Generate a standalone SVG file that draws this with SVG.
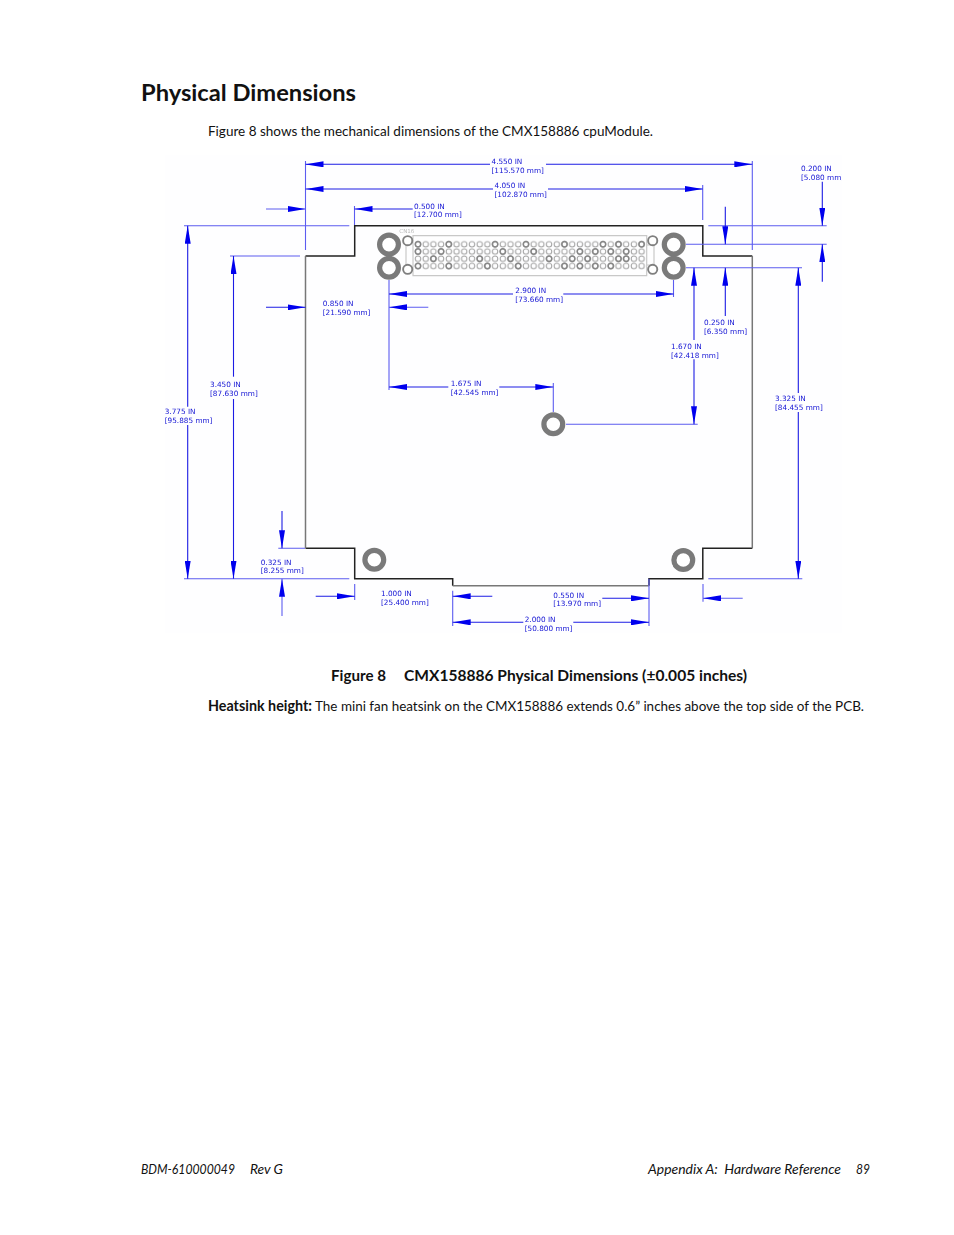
<svg xmlns="http://www.w3.org/2000/svg" xmlns:xlink="http://www.w3.org/1999/xlink" width="954" height="1235" viewBox="0 0 954 1235">
<style>
.page{font-family:"Lato","Noto Sans",sans-serif;fill:#111}
.b{font-weight:700}
.foot{font-style:italic;font-size:14px}
.dim text{font-family:"DejaVu Sans","Liberation Sans",sans-serif;font-size:7.3px;fill:#1414d4}
.l{fill:none;stroke:#1c1ce4;stroke-width:1.1}
.w{fill:none;stroke:#5c5cf0;stroke-width:1.1}
.a{marker-end:url(#arrow)}
.dark{fill:none;stroke:#222;stroke-width:1.5}
.gray{fill:none;stroke:#777;stroke-width:1.5}
.hole{fill:#fff;stroke:#7a7a7a;stroke-width:5.2}
.ring{fill:#fff;stroke:#7f7f7f;stroke-width:1.9}
.pin{fill:none;stroke:#a2a2a2;stroke-width:1}
.pinb{fill:none;stroke:#878787;stroke-width:1.5}
</style>
<defs>
<marker id="arrow" markerUnits="userSpaceOnUse" viewBox="0 0 18 6" refX="18" refY="3" markerWidth="18" markerHeight="6" orient="auto"><path d="M0 0L18 3L0 6Z" fill="#0000ee"/></marker>
<pattern id="pins" patternUnits="userSpaceOnUse" x="414.15" y="240.7" width="7.71" height="7.23"><circle cx="3.855" cy="3.6" r="2.7" class="pin"/></pattern>
<circle id="pb" r="2.7" class="pinb"/>
<filter id="soft" x="0" y="0" width="1" height="1"><feGaussianBlur stdDeviation="0.3"/></filter>
<clipPath id="figclip"><rect x="165" y="155" width="677" height="478"/></clipPath>
</defs>
<rect width="954" height="1235" fill="#fff"/>
<g id="page-text" class="page">
<text class="b" x="141" y="101" font-size="23.5" textLength="215" lengthAdjust="spacingAndGlyphs">Physical Dimensions</text>
<text x="208" y="136" font-size="14.2" textLength="445" lengthAdjust="spacingAndGlyphs">Figure 8 shows the mechanical dimensions of the CMX158886 cpuModule.</text>
<text class="b" x="331" y="681" font-size="15" textLength="55" lengthAdjust="spacingAndGlyphs">Figure 8</text>
<text class="b" x="404" y="681" font-size="15" textLength="343" lengthAdjust="spacingAndGlyphs">CMX158886 Physical Dimensions (±0.005 inches)</text>
<text class="b" x="208" y="711" font-size="14.2" textLength="104" lengthAdjust="spacingAndGlyphs">Heatsink height:</text>
<text x="315" y="711" font-size="14.2" textLength="549" lengthAdjust="spacingAndGlyphs">The mini fan heatsink on the CMX158886 extends 0.6” inches above the top side of the PCB.</text>
<text class="foot" x="141" y="1174" textLength="94" lengthAdjust="spacingAndGlyphs">BDM-610000049</text>
<text class="foot" x="250" y="1174" textLength="33" lengthAdjust="spacingAndGlyphs">Rev G</text>
<text class="foot" x="648" y="1174" textLength="193" lengthAdjust="spacingAndGlyphs" xml:space="preserve">Appendix A:  Hardware Reference</text>
<text class="foot" x="856" y="1174" textLength="14" lengthAdjust="spacingAndGlyphs">89</text>
</g>
<g id="figure" filter="url(#soft)" clip-path="url(#figclip)">
<rect x="165" y="155" width="677" height="478" fill="#fefeff"/>
<g id="board">
<path class="dark" d="M305.5 256H354.7V225.7H702.8V256H752.3M305.5 548.3H354.7V578.7H452.7V585.7M649 585.7V578.7H702.8V548.3H752.3"/>
<path class="gray" d="M305.5 256V548.3M752.3 256V548.3M452.7 585.7H649"/>
</g>
<g id="cn16">
<text x="399.3" y="233" font-family="DejaVu Sans, sans-serif" font-size="5.5" fill="#bbb">CN16</text>
<path d="M406 245V265M413 235.7H646.7V275.7H413ZM646.7 245H654V265H646.7" fill="none" stroke="#c8c8c8" stroke-width="1.2"/>
<rect x="414.15" y="240.7" width="231.3" height="28.92" fill="url(#pins)"/>
<g id="pins-strong">
<use xlink:href="#pb" x="418" y="244.3"/><use xlink:href="#pb" x="448.8" y="244.3"/><use xlink:href="#pb" x="495.1" y="244.3"/><use xlink:href="#pb" x="526" y="244.3"/><use xlink:href="#pb" x="564.5" y="244.3"/><use xlink:href="#pb" x="603" y="244.3"/><use xlink:href="#pb" x="618.5" y="244.3"/><use xlink:href="#pb" x="641.6" y="244.3"/>
<use xlink:href="#pb" x="418" y="251.5"/><use xlink:href="#pb" x="441.1" y="251.5"/><use xlink:href="#pb" x="502.8" y="251.5"/><use xlink:href="#pb" x="533.7" y="251.5"/><use xlink:href="#pb" x="579.9" y="251.5"/><use xlink:href="#pb" x="595.3" y="251.5"/><use xlink:href="#pb" x="610.8" y="251.5"/><use xlink:href="#pb" x="626.2" y="251.5"/>
<use xlink:href="#pb" x="433.4" y="258.8"/><use xlink:href="#pb" x="479.7" y="258.8"/><use xlink:href="#pb" x="510.5" y="258.8"/><use xlink:href="#pb" x="549.1" y="258.8"/><use xlink:href="#pb" x="572.2" y="258.8"/><use xlink:href="#pb" x="587.6" y="258.8"/><use xlink:href="#pb" x="618.5" y="258.8"/><use xlink:href="#pb" x="626.2" y="258.8"/>
<use xlink:href="#pb" x="418" y="266"/><use xlink:href="#pb" x="448.8" y="266"/><use xlink:href="#pb" x="487.4" y="266"/><use xlink:href="#pb" x="518.2" y="266"/><use xlink:href="#pb" x="564.5" y="266"/><use xlink:href="#pb" x="579.9" y="266"/><use xlink:href="#pb" x="595.3" y="266"/><use xlink:href="#pb" x="610.8" y="266"/>
</g>
<circle class="ring" cx="407.7" cy="240.7" r="4.6"/>
<circle class="ring" cx="407.7" cy="269.3" r="4.6"/>
<circle class="ring" cx="652.7" cy="240.7" r="4.6"/>
<circle class="ring" cx="652.7" cy="269.3" r="4.6"/>
</g>
<g id="hole-tl-1"><circle class="hole" cx="389" cy="244.6" r="9.4"/></g>
<g id="hole-tl-2"><circle class="hole" cx="389" cy="267.7" r="9.4"/></g>
<g id="hole-tr-1"><circle class="hole" cx="673.7" cy="244.6" r="9.4"/></g>
<g id="hole-tr-2"><circle class="hole" cx="673.7" cy="267.7" r="9.4"/></g>
<g id="hole-mid"><circle class="hole" cx="553.3" cy="424.3" r="9.4"/></g>
<g id="hole-bl"><circle class="hole" cx="374.3" cy="559.8" r="9.4"/></g>
<g id="hole-br"><circle class="hole" cx="683.3" cy="560" r="9.4"/></g>
<g id="connectors" class="dim">
<g id="witness">
<path class="w" d="M305.5 161V250M752.3 161V250M702.7 185V220M354.5 206V225M389 280V390M673.5 280V297M553.3 383V412M184 225.7H349.3M708.3 225.7H826.7M230 256H300M686 244.3H826.7M686 267.7H802M566 424.3H697.7M184 578.7H349.3M708.3 578.7H802.3M278.3 548.3H305M354.7 584V600M703 584V601.7M452.7 590.7V626M649 578.7V626"/>
</g>
<g id="dim-4550">
<path class="l a" d="M490 164.3H305.5"/><path class="l a" d="M546 164.3H752.3"/>
<text x="491.5" y="164">4.550 IN</text><text x="491.5" y="172.7">[115.570 mm]</text>
</g>
<g id="dim-4050">
<path class="l a" d="M493 189H305.5"/><path class="l a" d="M548 189H702.7"/>
<text x="494.5" y="188">4.050 IN</text><text x="494.5" y="197">[102.870 mm]</text>
</g>
<g id="dim-0500">
<path class="w a" d="M266 209H305.5"/><path class="l a" d="M412.7 209H354.5"/>
<text x="414" y="208.7">0.500 IN</text><text x="414" y="217">[12.700 mm]</text>
</g>
<g id="dim-0200">
<path class="l a" d="M822.3 181.7V225.7"/><path class="l a" d="M822.3 281.7V244.3"/>
<text x="801" y="170.7">0.200 IN</text><text x="801" y="179.7">[5.080 mm]</text>
</g>
<g id="dim-0250">
<path class="l a" d="M725.3 206.7V244.3"/><path class="l a" d="M725.3 316V267.7"/>
<text x="704" y="325">0.250 IN</text><text x="704" y="333.7">[6.350 mm]</text>
</g>
<g id="dim-2900">
<path class="l a" d="M513 294H389"/><path class="l a" d="M563.3 294H673.5"/>
<text x="515.3" y="293.3">2.900 IN</text><text x="515.3" y="301.7">[73.660 mm]</text>
</g>
<g id="dim-0850">
<path class="l a" d="M266 307.3H305.5"/><path class="w a" d="M428.3 307.3H389"/>
<text x="322.7" y="306.3">0.850 IN</text><text x="322.7" y="315">[21.590 mm]</text>
</g>
<g id="dim-1670">
<path class="l a" d="M694 340V267.7"/><path class="l a" d="M694 359.3V424.3"/>
<text x="671" y="349">1.670 IN</text><text x="671" y="358">[42.418 mm]</text>
</g>
<g id="dim-1675">
<path class="l a" d="M448.3 387H389"/><path class="l a" d="M499.3 387H553.3"/>
<text x="450.7" y="386">1.675 IN</text><text x="450.7" y="395">[42.545 mm]</text>
</g>
<g id="dim-3450">
<path class="l a" d="M233.5 376.7V256"/><path class="l a" d="M233.5 399V578.7"/>
<text x="210" y="387">3.450 IN</text><text x="210" y="395.7">[87.630 mm]</text>
</g>
<g id="dim-3775">
<path class="l a" d="M187.7 406.7V225.7"/><path class="l a" d="M187.7 425V578.7"/>
<text x="164.7" y="414.3">3.775 IN</text><text x="164.7" y="423">[95.885 mm]</text>
</g>
<g id="dim-3325">
<path class="l a" d="M798.3 393V267.7"/><path class="l a" d="M798.3 412V578.7"/>
<text x="775" y="400.5">3.325 IN</text><text x="775" y="409.5">[84.455 mm]</text>
</g>
<g id="dim-0325">
<path class="l a" d="M282 511V548.3"/><path class="w a" d="M282 616V578.7"/>
<text x="260.7" y="564.5">0.325 IN</text><text x="260.7" y="573.3">[8.255 mm]</text>
</g>
<g id="dim-1000">
<path class="l a" d="M315.7 596.3H354.7"/><path class="w a" d="M742.7 598.3H703"/>
<text x="381" y="596">1.000 IN</text><text x="381" y="604.7">[25.400 mm]</text>
</g>
<g id="dim-0550">
<path class="l a" d="M492.3 596.3H452.7"/><path class="l a" d="M602.3 598.3H649"/>
<text x="553.3" y="597.7">0.550 IN</text><text x="553.3" y="606.3">[13.970 mm]</text>
</g>
<g id="dim-2000">
<path class="l a" d="M523.3 622.3H452.7"/><path class="l a" d="M573.3 622.3H649"/>
<text x="524.7" y="621.7">2.000 IN</text><text x="524.7" y="630.5">[50.800 mm]</text>
</g>
</g>
</g>
</svg>
